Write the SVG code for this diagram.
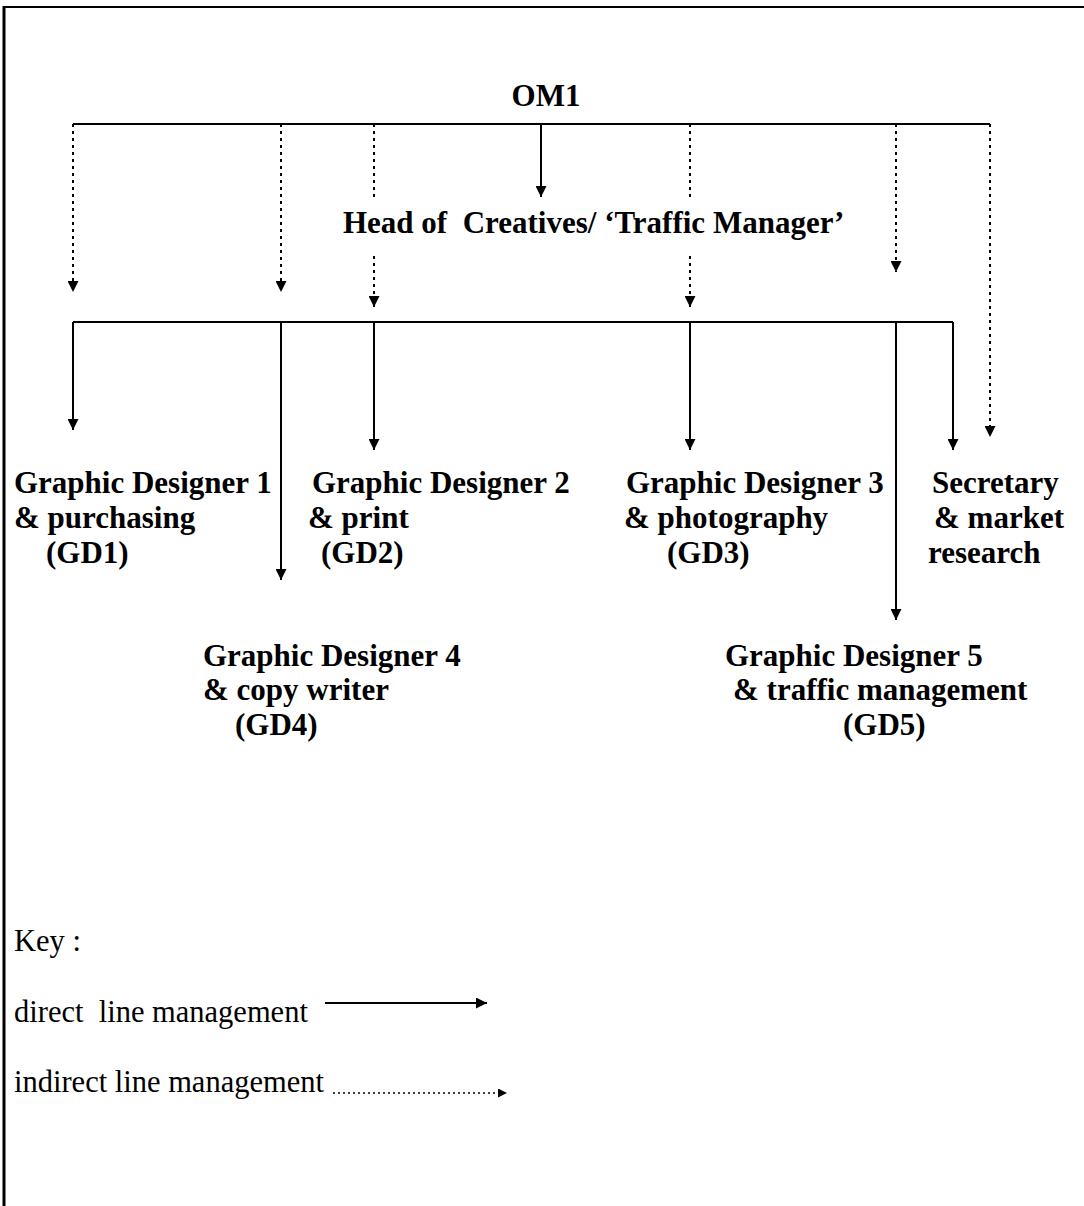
<svg xmlns="http://www.w3.org/2000/svg" width="1084" height="1206" viewBox="0 0 1084 1206">
  <style>
    .t { font-family: "Liberation Serif", "Times New Roman", serif; font-size: 31px; font-weight: bold; fill: #000; }
    .k { font-family: "Liberation Serif", "Times New Roman", serif; font-size: 30.5px; fill: #000; }
    .solid { stroke: #000; stroke-width: 2; fill: none; }
    .dot { stroke: #000; stroke-width: 2; fill: none; stroke-dasharray: 3 4; }
  </style>
  <defs>
    <marker id="ah" viewBox="0 0 10 10" refX="10" refY="5" markerWidth="11" markerHeight="11" markerUnits="userSpaceOnUse" orient="auto">
      <path d="M0,0 L10,5 L0,10 z" fill="#000"/>
    </marker>
    <marker id="ahs" viewBox="0 0 10 10" refX="10" refY="5" markerWidth="9" markerHeight="9" markerUnits="userSpaceOnUse" orient="auto">
      <path d="M0,0 L10,5 L0,10 z" fill="#000"/>
    </marker>
  </defs>

  <!-- page frame -->
  <g id="frame">
    <line x1="3" y1="7" x2="1084" y2="7" stroke="#000" stroke-width="2"/>
    <line x1="4" y1="6" x2="4" y2="1206" stroke="#000" stroke-width="3"/>
  </g>

  <!-- reporting lines -->
  <g id="connectors">
    <!-- OM1 bracket -->
    <line class="solid" x1="73" y1="124" x2="990" y2="124"/>
    <line class="solid" x1="541" y1="124" x2="541" y2="197" marker-end="url(#ah)"/>
    <line class="dot" x1="73" y1="124" x2="73" y2="292" marker-end="url(#ah)"/>
    <line class="dot" x1="281" y1="124" x2="281" y2="292" marker-end="url(#ah)"/>
    <line class="dot" x1="374" y1="124" x2="374" y2="200"/>
    <line class="dot" x1="374" y1="256" x2="374" y2="307" marker-end="url(#ah)"/>
    <line class="dot" x1="690" y1="124" x2="690" y2="200"/>
    <line class="dot" x1="690" y1="256" x2="690" y2="307" marker-end="url(#ah)"/>
    <line class="dot" x1="896" y1="124" x2="896" y2="272" marker-end="url(#ah)"/>
    <line class="dot" x1="990" y1="124" x2="990" y2="437" marker-end="url(#ah)"/>

    <!-- Head of Creatives bracket -->
    <line class="solid" x1="73" y1="322" x2="953" y2="322"/>
    <line class="solid" x1="73" y1="322" x2="73" y2="430" marker-end="url(#ah)"/>
    <line class="solid" x1="281" y1="322" x2="281" y2="580" marker-end="url(#ah)"/>
    <line class="solid" x1="374" y1="322" x2="374" y2="450" marker-end="url(#ah)"/>
    <line class="solid" x1="690" y1="322" x2="690" y2="450" marker-end="url(#ah)"/>
    <line class="solid" x1="896" y1="322" x2="896" y2="620" marker-end="url(#ah)"/>
    <line class="solid" x1="953" y1="322" x2="953" y2="450" marker-end="url(#ah)"/>
  </g>

  <g id="om1">
    <text class="t" x="546" y="106" text-anchor="middle">OM1</text>
  </g>

  <g id="head-of-creatives">
    <text class="t" x="343" y="233" xml:space="preserve">Head of  Creatives/ ‘Traffic Manager’</text>
  </g>

  <g id="gd1">
    <text class="t" x="14" y="493">Graphic Designer 1</text>
    <text class="t" x="14" y="528">&amp; purchasing</text>
    <text class="t" x="46" y="563">(GD1)</text>
  </g>

  <g id="gd2">
    <text class="t" x="312" y="493">Graphic Designer 2</text>
    <text class="t" x="308" y="528">&amp; print</text>
    <text class="t" x="321" y="563">(GD2)</text>
  </g>

  <g id="gd3">
    <text class="t" x="626" y="493">Graphic Designer 3</text>
    <text class="t" x="624" y="528">&amp; photography</text>
    <text class="t" x="667" y="563">(GD3)</text>
  </g>

  <g id="secretary">
    <text class="t" x="932" y="493">Secretary</text>
    <text class="t" x="934" y="528">&amp; market</text>
    <text class="t" x="928" y="563">research</text>
  </g>

  <g id="gd4">
    <text class="t" x="203" y="666">Graphic Designer 4</text>
    <text class="t" x="203" y="700">&amp; copy writer</text>
    <text class="t" x="235" y="735">(GD4)</text>
  </g>

  <g id="gd5">
    <text class="t" x="725" y="666">Graphic Designer 5</text>
    <text class="t" x="733" y="700">&amp; traffic management</text>
    <text class="t" x="843" y="735">(GD5)</text>
  </g>

  <!-- legend -->
  <g id="key">
    <text class="k" x="14" y="951">Key :</text>
    <text class="k" x="14" y="1022" xml:space="preserve">direct  line management</text>
    <line class="solid" x1="325" y1="1003" x2="487" y2="1003" marker-end="url(#ah)"/>
    <text class="k" x="14" y="1092">indirect line management</text>
    <line x1="333" y1="1093" x2="507" y2="1093" stroke="#000" stroke-width="1.5" stroke-dasharray="2 3" marker-end="url(#ahs)"/>
  </g>
</svg>
